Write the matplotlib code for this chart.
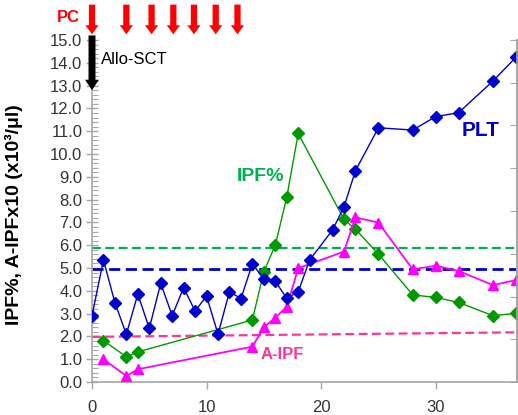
import matplotlib
matplotlib.use("Agg")
import matplotlib.pyplot as plt
from matplotlib.ticker import MultipleLocator, FormatStrFormatter

plt.rcParams['font.family'] = ['Liberation Sans', 'DejaVu Sans']

# Data
plt_days = [0, 1, 2, 3, 4, 5, 6, 7, 8, 9, 10, 11, 12, 13, 14, 15, 16, 17, 18, 19,
            21, 22, 23, 25, 28, 30, 32, 35, 37]
plt_vals = [2.91, 5.35, 3.48, 2.09, 3.86, 2.35, 4.33, 2.91, 4.14, 3.11, 3.77, 2.10,
            3.96, 3.66, 5.18, 4.52, 4.42, 3.67, 3.96, 5.35, 6.67, 7.69, 9.27, 11.15,
            11.05, 11.64, 11.81, 13.20, 14.24]

ipf_days = [1, 3, 4, 14, 15, 16, 17, 18, 22, 23, 25, 28, 30, 32, 35, 37]
ipf_vals = [1.81, 1.11, 1.32, 2.72, 4.84, 6.00, 8.10, 10.90, 7.13, 6.70, 5.61, 3.82,
            3.71, 3.49, 2.91, 3.01]

aipf_days = [1, 3, 4, 14, 15, 16, 17, 18, 22, 23, 25, 28, 30, 32, 35, 37]
aipf_vals = [1.00, 0.26, 0.56, 1.55, 2.40, 2.82, 3.30, 4.99, 5.72, 7.22, 6.99, 4.94,
             5.10, 4.87, 4.25, 4.47]

ref_x = [0, 37.1]
ref_ipf = [5.86, 5.86]
ref_plt = [4.96, 4.96]
ref_aipf = [1.98, 2.18]

pc_days = [0, 3, 5.2, 7.1, 8.9, 10.8, 12.7]
sct_day = 0

fig = plt.figure(figsize=(5.18, 4.15), dpi=100)
ax = fig.add_axes([92/518, 33/415, 425/518, 342/415])

ax.set_xlim(0, 37.1)
ax.set_ylim(0, 15)

# reference lines
ax.plot(ref_x, ref_ipf, color='#00B050', lw=1.6, ls=(0, (4, 2)), zorder=2)
ax.plot(ref_x, ref_plt, color='#0000CC', lw=2.0, ls=(0, (4, 2)), zorder=2)
ax.plot(ref_x, ref_aipf, color='#FF3399', lw=1.6, ls=(0, (4, 2)), zorder=2)

# series
ax.plot(plt_days, plt_vals, color='#0000CC', lw=1.0, marker='D', ms=6,
        mfc='#0000CC', mec='#0000CC', zorder=4)
ax.plot(ipf_days, ipf_vals, color='#009900', lw=1.0, marker='D', ms=6,
        mfc='#009900', mec='#009900', zorder=3)
ax.plot(aipf_days, aipf_vals, color='#FF00FF', lw=1.3, marker='^', ms=7,
        mfc='#FF00FF', mec='#FF00FF', zorder=3)

# axes styling
ax.spines['top'].set_visible(False)
for s in ['left', 'bottom', 'right']:
    ax.spines[s].set_color('#A6A6A6')
    ax.spines[s].set_linewidth(1.2)

ax.yaxis.set_major_locator(MultipleLocator(1.0))
ax.yaxis.set_minor_locator(MultipleLocator(0.2))
ax.yaxis.set_major_formatter(FormatStrFormatter('%.1f'))
ax.set_xticks([0, 10, 20, 30])
ax.tick_params(axis='y', which='major', direction='inout', length=8, width=1,
               color='#A6A6A6', labelsize=12, labelcolor='#333333', pad=3)
ax.tick_params(axis='y', which='minor', direction='in', length=4, width=0.8,
               color='#A6A6A6')
ax.tick_params(axis='x', which='major', direction='out', length=5, width=1,
               color='#A6A6A6', labelsize=12, labelcolor='#333333', pad=8)

ax.set_ylabel('IPF%, A-IPFx10 (x10³/μl)', fontsize=14, fontweight='bold',
              color='#000000')
ax.yaxis.set_label_coords(-0.162, 0.49)

# right axis ticks
ax2 = ax.twinx()
ax2.set_ylim(0, 8)
ax2.set_yticks(range(9))
ax2.tick_params(axis='y', direction='in', length=5, color='#A6A6A6', labelright=False)
for s in ['top', 'left', 'bottom']:
    ax2.spines[s].set_visible(False)
ax2.spines['right'].set_color('#A6A6A6')
ax2.spines['right'].set_linewidth(1.2)


def figtxt(px, py, s, **kw):
    fig.text(px/518, 1 - py/415, s, ha='center', va='center', **kw)


figtxt(261, 176, 'IPF%', color='#00B050', fontsize=14, fontweight='bold')
figtxt(481, 130, 'PLT', color='#0000CC', fontsize=15, fontweight='bold')
figtxt(282, 354, 'A-IPF', color='#FF3399', fontsize=12, fontweight='bold')
figtxt(134, 60, 'Allo-SCT', color='#000000', fontsize=12)
figtxt(68, 17, 'PC', color='#FF0000', fontsize=12, fontweight='bold')

# PC arrows
for d in pc_days:
    ax.annotate('', xy=(d, 15.25), xytext=(d, 16.55), xycoords='data',
                annotation_clip=False,
                arrowprops=dict(arrowstyle='simple,head_width=0.95,head_length=0.65,tail_width=0.45',
                                mutation_scale=10, color='#FF0000', shrinkA=0, shrinkB=0,
                                lw=0))

# Allo-SCT arrow
ax.annotate('', xy=(sct_day, 12.8), xytext=(sct_day, 15.2), xycoords='data',
            annotation_clip=False,
            arrowprops=dict(arrowstyle='simple,head_width=1.0,head_length=0.75,tail_width=0.5',
                            mutation_scale=10, color='#000000', shrinkA=0, shrinkB=0,
                            lw=0), zorder=6)

fig.savefig('out.png', dpi=100)
